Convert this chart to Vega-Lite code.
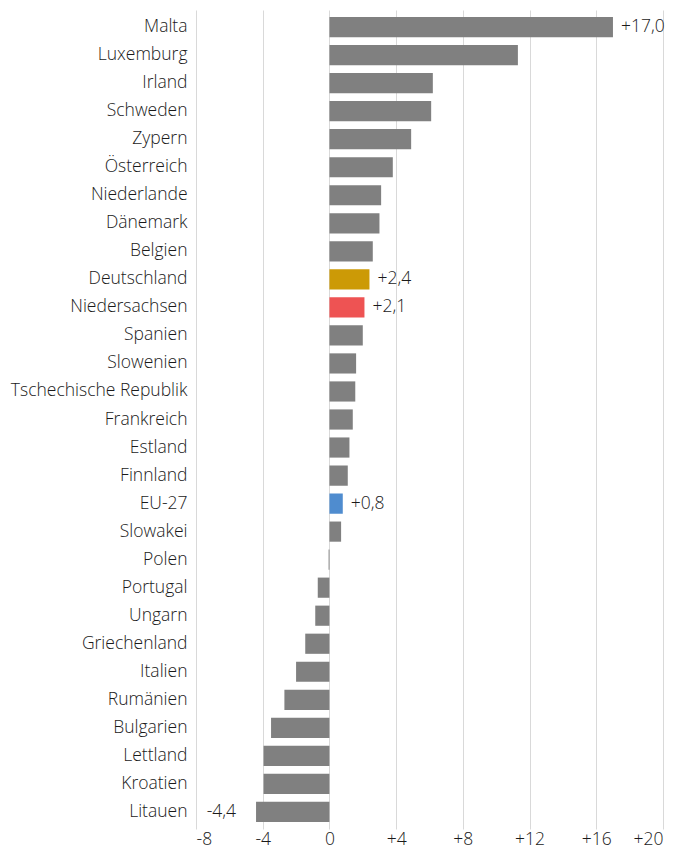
{
  "$schema": "https://vega.github.io/schema/vega-lite/v6.json",
  "width": 467,
  "height": 819,
  "padding": {"left": 10, "top": 10, "right": 3, "bottom": 5},
  "background": "white",
  "config": {
    "view": {"stroke": null},
    "font": "Open Sans",
    "axis": {"labelFont": "Open Sans", "labelColor": "#1a1a1a", "labelFontWeight": 300}
  },
  "data": {
    "values": [
      {"Land": "Malta", "Wert": 17.0, "label": "+17,0"},
      {"Land": "Luxemburg", "Wert": 11.3},
      {"Land": "Irland", "Wert": 6.2},
      {"Land": "Schweden", "Wert": 6.1},
      {"Land": "Zypern", "Wert": 4.9},
      {"Land": "Österreich", "Wert": 3.8},
      {"Land": "Niederlande", "Wert": 3.1},
      {"Land": "Dänemark", "Wert": 3.0},
      {"Land": "Belgien", "Wert": 2.6},
      {"Land": "Deutschland", "Wert": 2.4, "label": "+2,4"},
      {"Land": "Niedersachsen", "Wert": 2.1, "label": "+2,1"},
      {"Land": "Spanien", "Wert": 2.0},
      {"Land": "Slowenien", "Wert": 1.6},
      {"Land": "Tschechische Republik", "Wert": 1.55},
      {"Land": "Frankreich", "Wert": 1.4},
      {"Land": "Estland", "Wert": 1.2},
      {"Land": "Finnland", "Wert": 1.1},
      {"Land": "EU-27", "Wert": 0.8, "label": "+0,8"},
      {"Land": "Slowakei", "Wert": 0.7},
      {"Land": "Polen", "Wert": -0.05},
      {"Land": "Portugal", "Wert": -0.7},
      {"Land": "Ungarn", "Wert": -0.85},
      {"Land": "Griechenland", "Wert": -1.45},
      {"Land": "Italien", "Wert": -2.0},
      {"Land": "Rumänien", "Wert": -2.7},
      {"Land": "Bulgarien", "Wert": -3.5},
      {"Land": "Lettland", "Wert": -3.95},
      {"Land": "Kroatien", "Wert": -3.95},
      {"Land": "Litauen", "Wert": -4.4, "label": "-4,4"}
    ]
  },
  "encoding": {
    "y": {
      "field": "Land",
      "type": "nominal",
      "sort": null,
      "scale": {"paddingInner": 0.28, "paddingOuter": 0.25},
      "axis": {
        "title": null,
        "ticks": false,
        "domain": false,
        "grid": false,
        "labelFontSize": 17.5,
        "labelPadding": 9
      }
    }
  },
  "layer": [
    {
      "mark": {"type": "bar"},
      "encoding": {
        "x": {
          "field": "Wert",
          "type": "quantitative",
          "scale": {"domain": [-8, 20], "nice": false, "zero": false},
          "axis": {
            "title": null,
            "values": [-8, -4, 0, 4, 8, 12, 16, 20],
            "labelExpr": "datum.value > 0 ? '+' + datum.value : '' + datum.value",
            "ticks": false,
            "domain": false,
            "grid": true,
            "gridColor": "#d9d9d9",
            "gridWidth": 1,
            "labelFontSize": 17.5,
            "labelPadding": 1
          }
        },
        "color": {
          "condition": [
            {"test": "datum.Land === 'Deutschland'", "value": "#CC9A06"},
            {"test": "datum.Land === 'Niedersachsen'", "value": "#EE5353"},
            {"test": "datum.Land === 'EU-27'", "value": "#4F8CCF"}
          ],
          "value": "#808080"
        }
      }
    },
    {
      "mark": {"type": "rule", "color": "#808080", "strokeWidth": 1.5},
      "encoding": {"x": {"datum": 0, "type": "quantitative"}}
    },
    {
      "transform": [{"filter": "datum.label && datum.Wert >= 0"}],
      "mark": {"type": "text", "align": "left", "baseline": "middle", "dx": 8, "fontSize": 17.5, "fontWeight": 300, "color": "#1a1a1a"},
      "encoding": {
        "x": {"field": "Wert", "type": "quantitative"},
        "text": {"field": "label"}
      }
    },
    {
      "transform": [{"filter": "datum.label && datum.Wert < 0"}],
      "mark": {"type": "text", "align": "right", "baseline": "middle", "dx": -20, "fontSize": 17.5, "fontWeight": 300, "color": "#1a1a1a"},
      "encoding": {
        "x": {"field": "Wert", "type": "quantitative"},
        "text": {"field": "label"}
      }
    }
  ]
}
